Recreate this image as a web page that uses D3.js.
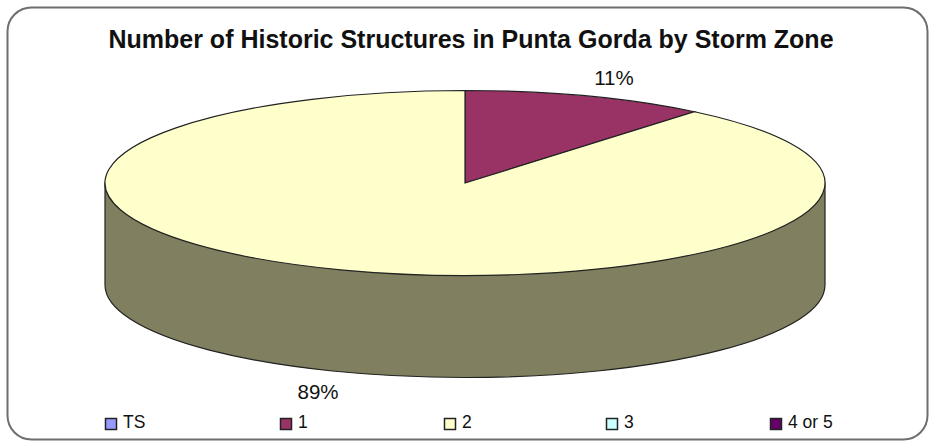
<!DOCTYPE html>
<html>
<head>
<meta charset="utf-8">
<script src="https://cdn.jsdelivr.net/npm/d3@7"></script>
<style>
  html, body { margin: 0; padding: 0; background: #fff; }
  svg { display: block; }
  text { font-family: "Liberation Sans", Arial, sans-serif; fill: #111; }
</style>
</head>
<body>
<svg id="chart" width="929" height="442"></svg>
<script>
(function () {
// Storm-zone share of historic structures
const zones = ["TS", "1", "2", "3", "4 or 5"];
const shares = [0, 11, 89, 0, 0];
const zoneColors = ["#9999ff", "#993366", "#ffffcc", "#ccffff", "#660066"];
const chartTitle = "Number of Historic Structures in Punta Gorda by Storm Zone";

// Layout
const cx = 465, cy = 183, rx = 360, ry = 92.5, depth = 102;
const legendX = [105, 280, 444, 606, 770];
const legendY = 418;
const labelOffsets = { "1": [27, -18], "2": [-25, 20] };

const svg = d3.select("#chart");

// Outer frame
svg.append("rect")
  .attr("x", 7.5).attr("y", 7.5).attr("width", 920).attr("height", 432)
  .attr("rx", 24).attr("ry", 24)
  .attr("fill", "#fff").attr("stroke", "#6e6e6e").attr("stroke-width", 2);

svg.append("text")
  .attr("x", 471).attr("y", 48)
  .attr("text-anchor", "middle")
  .attr("font-size", 25).attr("font-weight", "bold")
  .text(chartTitle);

// Pie geometry is computed on a circle of radius rx, then squashed to the disc's ellipse
const pie = d3.pie().value(d => d.share).sort(null);
const arc = d3.arc().innerRadius(0).outerRadius(rx);
const arcs = pie(zones.map((zone, i) => ({ zone, share: shares[i], color: zoneColors[i] })));
const yScale = ry / rx;

// Cylinder wall, below the top face
const wallPath = `M${cx - rx},${cy} L${cx - rx},${cy + depth} A${rx},${ry} 0 0 0 ${cx + rx},${cy + depth} L${cx + rx},${cy} Z`;
svg.append("path")
  .attr("d", wallPath)
  .attr("fill", "#808060").attr("stroke", "#222").attr("stroke-width", 1.2);

// Top face
const disc = svg.append("g").attr("transform", `translate(${cx},${cy}) scale(1,${yScale})`);
disc.selectAll("path")
  .data(arcs.filter(d => d.data.share > 0))
  .join("path")
  .attr("d", arc)
  .attr("fill", d => d.data.color)
  .attr("stroke", "#222")
  .attr("stroke-width", 1.2)
  .attr("vector-effect", "non-scaling-stroke");

// Percentage labels next to the rim
svg.selectAll("text.pct")
  .data(arcs.filter(d => d.data.share > 0))
  .join("text")
  .attr("class", "pct")
  .attr("text-anchor", "middle")
  .attr("font-size", 20.5)
  .attr("x", d => {
    const a = (d.startAngle + d.endAngle) / 2;
    return cx + Math.sin(a) * rx + labelOffsets[d.data.zone][0];
  })
  .attr("y", d => {
    const a = (d.startAngle + d.endAngle) / 2;
    const wallDrop = Math.cos(a) < 0 ? depth : 0;
    return cy - Math.cos(a) * ry + wallDrop + labelOffsets[d.data.zone][1];
  })
  .attr("dy", "0.35em")
  .text(d => d3.format(".0%")(d.data.share / d3.sum(shares)));

// Legend
const legend = svg.selectAll("g.legend")
  .data(zones)
  .join("g")
  .attr("class", "legend")
  .attr("transform", (d, i) => `translate(${legendX[i]},${legendY})`);
legend.append("rect")
  .attr("x", 0.5).attr("y", 0.5).attr("width", 11).attr("height", 11)
  .attr("fill", (d, i) => zoneColors[i])
  .attr("stroke", "#222").attr("stroke-width", 1.5);
legend.append("text")
  .attr("x", 18).attr("y", 10)
  .attr("font-size", 17.5)
  .text(d => d);
})();
</script>
</body>
</html>
